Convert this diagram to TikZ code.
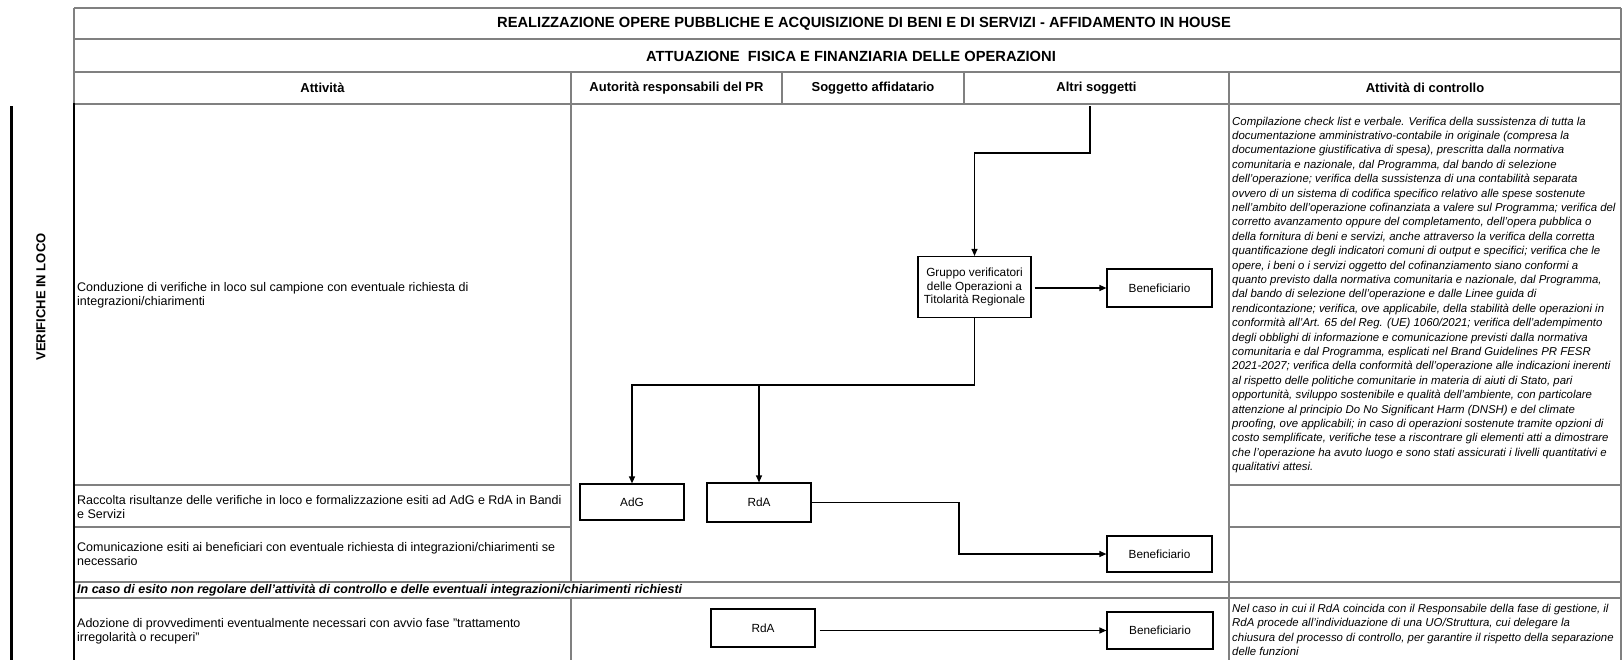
\documentclass[tikz,border=0pt]{standalone}
\usepackage{fontspec}
\setmainfont{Liberation Sans}
\usetikzlibrary{arrows.meta}
\definecolor{gridgray}{RGB}{128,128,128}

\begin{document}
\begin{tikzpicture}[x=1pt,y=-1pt,
  gridline/.style={draw=gridgray,line width=2.4pt},
  edgeline/.style={draw=black,line width=2.6pt},
  titletext/.style={font=\fontsize{14.7}{17}\selectfont\bfseries,inner sep=0pt},
  headtext/.style={font=\fontsize{13}{15}\selectfont\bfseries,inner sep=0pt},
  celltext/.style={font=\fontsize{12.5}{13.8}\selectfont,anchor=west,align=left,inner sep=0pt},
  notetext/.style={font=\fontsize{11.4}{14.4}\selectfont\itshape,anchor=west,align=left,inner sep=0pt},
  actor/.style={draw=black,line width=1.2pt,fill=white,inner sep=0pt,align=center,
    font=\fontsize{11.8}{13.4}\selectfont},
  conn/.style={draw=black,line width=1.2pt},
  arr/.style={conn,-{Triangle[length=7pt,width=6pt]}}]

\useasboundingbox (0,0) rectangle (1623,659);
\fill[white] (0,0) rectangle (1623,659);

% ---- table frame: header rows
\draw[gridline] (74,8) -- (1621,8);
\draw[gridline] (74,39) -- (1621,39);
\draw[gridline] (74,72) -- (1621,72);
\draw[gridline] (74,104) -- (1621,104);
\draw[gridline] (74,8) -- (74,104);
\draw[gridline] (1621,8) -- (1621,662);
\foreach \cx in {571,782,964} \draw[gridline] (\cx,72) -- (\cx,104);
\draw[gridline] (1229,72) -- (1229,662);

% ---- body rows
\draw[gridline] (571,104) -- (571,582);
\draw[gridline] (571,598) -- (571,662);
\draw[gridline] (74,485) -- (571,485);
\draw[gridline] (74,527) -- (571,527);
\draw[gridline] (1229,485) -- (1621,485);
\draw[gridline] (1229,527) -- (1621,527);
\draw[gridline] (74,582) -- (1621,582);
\draw[gridline] (74,598) -- (1621,598);
\draw[edgeline] (74,103) -- (74,662);
\draw[draw=black,line width=3pt] (11,106) -- (11,662);

% ---- header texts
\node[titletext] (title) at (864,24) {REALIZZAZIONE OPERE PUBBLICHE E ACQUISIZIONE DI BENI E DI SERVIZI - AFFIDAMENTO IN HOUSE};
\node[titletext] (subtitle) at (851,56) {ATTUAZIONE~ FISICA E FINANZIARIA DELLE OPERAZIONI};
\node[headtext] (h1) at (322.5,88) {Attività};
\node[headtext] (h2) at (676.5,88) {Autorità responsabili del PR};
\node[headtext] (h3) at (873,88) {Soggetto affidatario};
\node[headtext] (h4) at (1096.5,88) {Altri soggetti};
\node[headtext] (h5) at (1425,88) {Attività di controllo};

\node[headtext,rotate=90] (phase) at (41,297) {VERIFICHE IN LOCO};

% ---- activity column
\node[celltext] (a1) at (77,295) {Conduzione di verifiche in loco sul campione con eventuale richiesta di\\integrazioni/chiarimenti};
\node[celltext] (a2) at (77,507) {Raccolta risultanze delle verifiche in loco e formalizzazione esiti ad AdG e RdA in Bandi\\e Servizi};
\node[celltext] (a3) at (77,554) {Comunicazione esiti ai beneficiari con eventuale richiesta di integrazioni/chiarimenti se\\necessario};
\node[celltext,font=\fontsize{12.5}{13.8}\selectfont\bfseries\itshape] (a4) at (77,590) {In caso di esito non regolare dell’attività di controllo e delle eventuali integrazioni/chiarimenti richiesti};
\node[celltext] (a5) at (77,631) {Adozione di provvedimenti eventualmente necessari con avvio fase "trattamento\\irregolarità o recuperi"};

% ---- control column
\node[notetext] (c1) at (1232,295) {Compilazione check list e verbale. Verifica della sussistenza di tutta la\\
documentazione amministrativo-contabile in originale (compresa la\\
documentazione giustificativa di spesa), prescritta dalla normativa\\
comunitaria e nazionale, dal Programma, dal bando di selezione\\
dell’operazione; verifica della sussistenza di una contabilità separata\\
ovvero di un sistema di codifica specifico relativo alle spese sostenute\\
nell’ambito dell’operazione cofinanziata a valere sul Programma; verifica del\\
corretto avanzamento oppure del completamento, dell’opera pubblica o\\
della fornitura di beni e servizi, anche attraverso la verifica della corretta\\
quantificazione degli indicatori comuni di output e specifici; verifica che le\\
opere, i beni o i servizi oggetto del cofinanziamento siano conformi a\\
quanto previsto dalla normativa comunitaria e nazionale, dal Programma,\\
dal bando di selezione dell’operazione e dalle Linee guida di\\
rendicontazione; verifica, ove applicabile, della stabilità delle operazioni in\\
conformità all’Art. 65 del Reg. (UE) 1060/2021; verifica dell’adempimento\\
degli obblighi di informazione e comunicazione previsti dalla normativa\\
comunitaria e dal Programma, esplicati nel Brand Guidelines PR FESR\\
2021-2027; verifica della conformità dell’operazione alle indicazioni inerenti\\
al rispetto delle politiche comunitarie in materia di aiuti di Stato, pari\\
opportunità, sviluppo sostenibile e qualità dell’ambiente, con particolare\\
attenzione al principio Do No Significant Harm (DNSH) e del climate\\
proofing, ove applicabili; in caso di operazioni sostenute tramite opzioni di\\
costo semplificate, verifiche tese a riscontrare gli elementi atti a dimostrare\\
che l’operazione ha avuto luogo e sono stati assicurati i livelli quantitativi e\\
qualitativi attesi.};
\node[notetext] (c5) at (1232,630) {Nel caso in cui il RdA coincida con il Responsabile della fase di gestione, il\\
RdA procede all’individuazione di una UO/Struttura, cui delegare la\\
chiusura del processo di controllo, per garantire il rispetto della separazione\\
delle funzioni};

% ---- actors
\node[actor,minimum width=113pt,minimum height=61pt] (grp) at (974.5,287) {Gruppo verificatori\\delle Operazioni a\\Titolarità Regionale};
\node[actor,minimum width=105pt,minimum height=38pt] (ben1) at (1159.5,288) {Beneficiario};
\node[actor,minimum width=104pt,minimum height=36pt] (adg) at (632,502) {AdG};
\node[actor,minimum width=104pt,minimum height=39pt] (rda1) at (759,502.5) {RdA};
\node[actor,minimum width=105pt,minimum height=36pt] (ben2) at (1159.5,554) {Beneficiario};
\node[actor,minimum width=104pt,minimum height=38pt] (rda2) at (763,628) {RdA};
\node[actor,minimum width=106pt,minimum height=37pt] (ben3) at (1160,630.5) {Beneficiario};

% ---- connectors
\coordinate (src) at (1090,106);
\coordinate (bus) at (974.5,385);
\coordinate (kink) at (959,0);
\draw[arr] (src) -- ++(0,47) -| (grp.north);
\draw[arr,shorten <=3pt] (grp.east |- ben1.west) -- (ben1.west);
\draw[arr] (grp.south) -- (bus) -| (adg.north);
\draw[arr] (rda1.north |- bus) -- (rda1.north);
\draw[arr] (rda1.east) -- (rda1.east -| kink) |- (ben2.west);
\draw[arr,shorten <=4pt] (rda2.east |- ben3.west) -- (ben3.west);

\end{tikzpicture}
\end{document}
